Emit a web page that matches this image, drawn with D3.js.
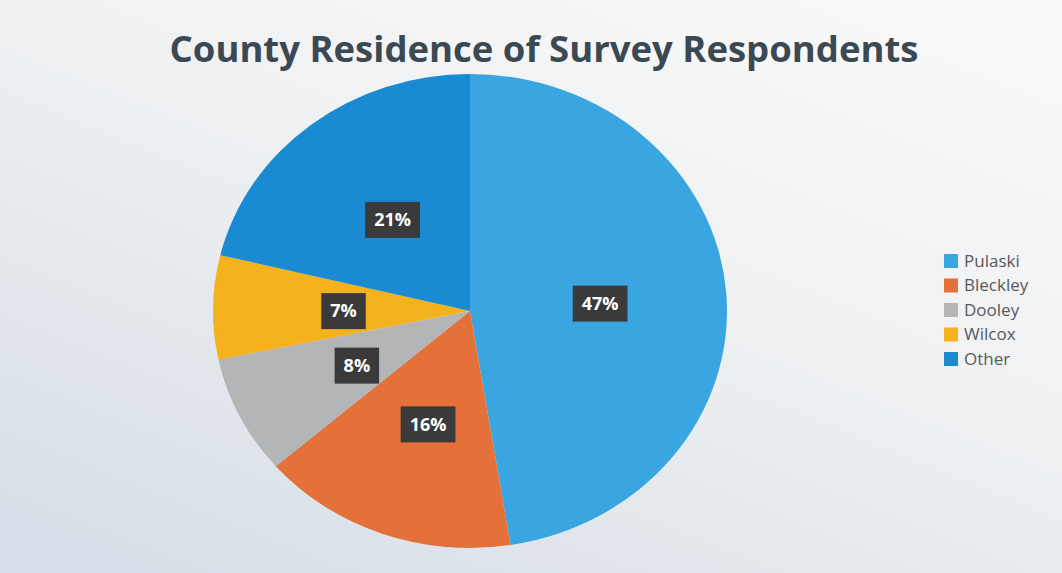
<!DOCTYPE html>
<html lang="en">
  <head>
    <meta charset="utf-8">
    <title>County Residence of Survey Respondents</title>
    <style type="text/css">
      body {
        margin: 0px;
        padding: 0px;
        background: #f2f3f4;
      }
    </style>
    <script src="https://d3js.org/d3.v7.min.js"></script>
  </head>
<body>
<div id="root"></div>
<script>
  var counties = ["Pulaski", "Bleckley", "Dooley", "Wilcox", "Other"];
  var shares = [47, 16, 8, 7, 21];
  var colors = ["#3aa6e1", "#e5713a", "#b3b5b7", "#f5b21c", "#1a8ad3"];

  var width = 1062, height = 573;

  var svg = d3.select("#root")
    .append("svg")
    .attr("width", width)
    .attr("height", height);

  // washed-out photo background
  var grad = svg.append("defs").append("linearGradient")
    .attr("id", "bg")
    .attr("x1", "85%").attr("y1", "0%")
    .attr("x2", "10%").attr("y2", "100%");
  grad.append("stop").attr("offset", "0%").attr("stop-color", "#f9f9f9");
  grad.append("stop").attr("offset", "45%").attr("stop-color", "#eef0f2");
  grad.append("stop").attr("offset", "100%").attr("stop-color", "#d6dee7");

  svg.append("rect")
    .attr("width", width)
    .attr("height", height)
    .attr("fill", "url(#bg)");

  svg.append("text")
    .attr("x", 544)
    .attr("y", 62)
    .attr("text-anchor", "middle")
    .style("font-family", "'Open Sans', sans-serif")
    .style("font-weight", "bold")
    .style("font-size", "36.5px")
    .style("fill", "#3b4953")
    .text("County Residence of Survey Respondents");

  var cx = 470, cy = 311, r = 237, sx = 257 / 237;

  var pie = d3.pie().sort(null).value(function(d) { return d; });
  var arcs = pie(shares);
  var arc = d3.arc().innerRadius(0).outerRadius(r);

  var g = svg.append("g")
    .attr("transform", "translate(" + cx + "," + cy + ") scale(" + sx + ",1)");

  g.selectAll("path")
    .data(arcs)
    .enter().append("path")
      .attr("d", arc)
      .attr("fill", function(d, i) { return colors[i]; });

  var labels = svg.append("g")
    .attr("transform", "translate(" + cx + "," + cy + ")")
    .selectAll("g")
    .data(arcs)
    .enter().append("g")
      .attr("transform", function(d) {
        var c = arc.centroid(d);
        return "translate(" + (c[0] * sx + 2) + "," + (c[1] + 2) + ")";
      });

  labels.append("text")
    .attr("text-anchor", "middle")
    .attr("dy", "0.35em")
    .style("font-family", "'Open Sans', sans-serif")
    .style("font-weight", "bold")
    .style("font-size", "18px")
    .style("fill", "#ffffff")
    .text(function(d) { return d.data + "%"; });

  labels.each(function() {
    var t = d3.select(this).select("text");
    var bb = t.node().getBBox();
    d3.select(this).insert("rect", "text")
      .attr("x", bb.x - 9)
      .attr("y", -18)
      .attr("width", bb.width + 18)
      .attr("height", 36)
      .attr("fill", "#3a3a3a");
  });

  var legend = svg.append("g")
    .attr("transform", "translate(944,254)")
    .selectAll("g")
    .data(counties)
    .enter().append("g")
      .attr("transform", function(d, i) { return "translate(0," + (i * 24.5) + ")"; });

  legend.append("rect")
    .attr("width", 14)
    .attr("height", 14)
    .attr("fill", function(d, i) { return colors[i]; });

  legend.append("text")
    .attr("x", 20)
    .attr("y", 7)
    .attr("dy", "0.35em")
    .style("font-family", "'Open Sans', sans-serif")
    .style("font-size", "17px")
    .style("fill", "#59595b")
    .text(function(d) { return d; });
</script>
</body>
</html>
